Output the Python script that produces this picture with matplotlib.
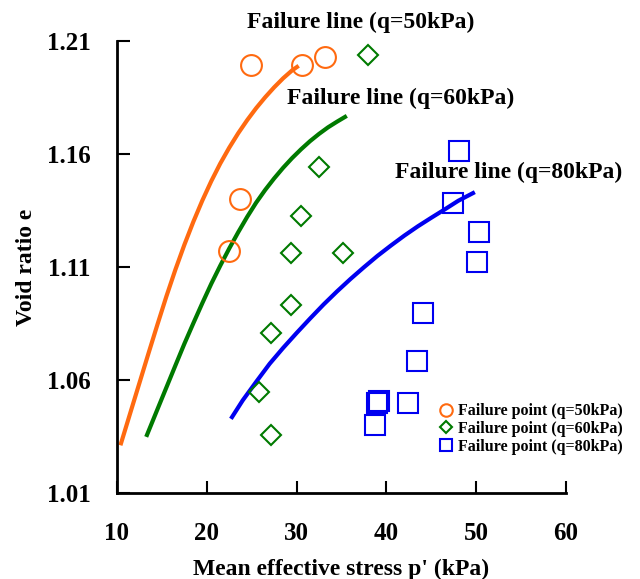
import matplotlib
matplotlib.use('Agg')
import matplotlib.pyplot as plt

plt.rcParams['font.family'] = ['Liberation Serif', 'DejaVu Serif']
plt.rcParams['font.weight'] = 'bold'

p50 = [10.45, 11.5, 12.5, 13.5, 14.5, 15.5, 16.5, 17.5, 18.5, 19.5, 20.5,
       21.5, 22.5, 23.5, 24.5, 25.5, 26.5, 27.5, 28.5, 29.5, 30.04]
e50 = [1.0320, 1.0457, 1.0587, 1.0717, 1.0845, 1.0970, 1.1088, 1.1198, 1.1300, 1.1394, 1.1480,
       1.1558, 1.1628, 1.1692, 1.1750, 1.1803, 1.1851, 1.1895, 1.1935, 1.1970, 1.1985]
p60 = [13.34, 14.5, 15.5, 16.5, 17.5, 18.5, 19.5, 20.5, 21.5, 22.5, 23.5, 24.5,
       25.5, 26.5, 27.5, 28.5, 29.5, 30.5, 31.5, 32.5, 33.5, 34.5, 35.39]
e60 = [1.0357, 1.0470, 1.0567, 1.0664, 1.0760, 1.0851, 1.0940, 1.1026, 1.1106, 1.1182, 1.1254, 1.1322,
       1.1385, 1.1441, 1.1492, 1.1539, 1.1582, 1.1621, 1.1657, 1.1689, 1.1718, 1.1743, 1.1764]
p80 = [22.81, 24.0, 25.5, 27.0, 28.5, 30.0, 31.5, 33.0, 34.5, 36.0,
       37.5, 39.0, 40.5, 42.0, 43.5, 45.0, 46.5, 48.0, 49.64]
e80 = [1.0436, 1.0510, 1.0592, 1.0672, 1.0742, 1.0808, 1.0872, 1.0934, 1.0992, 1.1047,
       1.1099, 1.1149, 1.1195, 1.1239, 1.1280, 1.1318, 1.1355, 1.1393, 1.1427]

# failure points
fp50_p = [24.92, 30.60, 33.16, 23.70, 22.47]
fp50_e = [1.1994, 1.1994, 1.2030, 1.1400, 1.1170]
fp60_p = [37.95, 32.50, 30.49, 29.38, 35.17, 29.38, 27.15, 25.80, 27.15]
fp60_e = [1.2038, 1.1542, 1.1326, 1.1162, 1.1162, 1.0931, 1.0808, 1.0546, 1.0357]
fp80_p = [48.08, 47.42, 50.31, 50.09, 44.08, 43.40, 38.95, 39.17, 42.41, 38.73]
fp80_e = [1.1613, 1.1383, 1.1255, 1.1122, 1.0896, 1.0684, 1.0498, 1.0507, 1.0498, 1.0401]

xticks = [10, 20, 30, 40, 50, 60]
yticks = [1.01, 1.06, 1.11, 1.16, 1.21]

ORANGE = '#FF6A10'
GREEN = '#007A00'
BLUE = '#0000F0'

fig = plt.figure(figsize=(6.4, 5.79), dpi=100)
ax = fig.add_axes([0.1828, 0.1485, 0.7016, 0.7807])

ax.plot(p50, e50, color=ORANGE, lw=3)
ax.plot(p60, e60, color=GREEN, lw=3)
ax.plot(p80, e80, color=BLUE, lw=3)

ax.plot(fp50_p, fp50_e, 'o', ms=15, mfc='none', mec=ORANGE, mew=1.5, ls='none',
        label='Failure point (q=50kPa)', clip_on=False)
ax.plot(fp60_p, fp60_e, 'D', ms=10.5, mfc='none', mec=GREEN, mew=1.5, ls='none',
        label='Failure point (q=60kPa)', clip_on=False)
ax.plot(fp80_p, fp80_e, 's', ms=15, mfc='none', mec=BLUE, mew=1.5, ls='none',
        label='Failure point (q=80kPa)', clip_on=False)

ax.text(24.48, 1.2184, 'Failure line (q=50kPa)', fontsize=17, fontweight='bold',
        ha='left', va='center')
ax.text(28.93, 1.1848, 'Failure line (q=60kPa)', fontsize=17, fontweight='bold',
        ha='left', va='center')
ax.text(40.96, 1.1520, 'Failure line (q=80kPa)', fontsize=17, fontweight='bold',
        ha='left', va='center')

ax.set_xlim(10, 60)
ax.set_ylim(1.01, 1.21)
ax.set_xticks(xticks)
ax.set_yticks(yticks)
ax.set_xticklabels([str(t) for t in xticks])
ax.set_yticklabels([f'{t:.2f}' for t in yticks])
ax.tick_params(direction='in', length=9, width=1.5, labelsize=18, pad=19)
ax.tick_params(axis='x', pad=21)
for s in ['top', 'right']:
    ax.spines[s].set_visible(False)
for s in ['left', 'bottom']:
    ax.spines[s].set_linewidth(2)

ax.set_xlabel("Mean effective stress p' (kPa)", fontsize=17, fontweight='bold', labelpad=10)
ax.set_ylabel('Void ratio e', fontsize=17, fontweight='bold', labelpad=7)

ax.legend(loc='upper left', bbox_to_anchor=(0.675, 0.317), bbox_transform=fig.transFigure,
          frameon=False, markerscale=0.6, handlelength=0.8,
          handletextpad=0.3, labelspacing=0.1, borderpad=0,
          prop={'weight': 'bold', 'size': 11.5})

fig.savefig('out.png', dpi=100)
